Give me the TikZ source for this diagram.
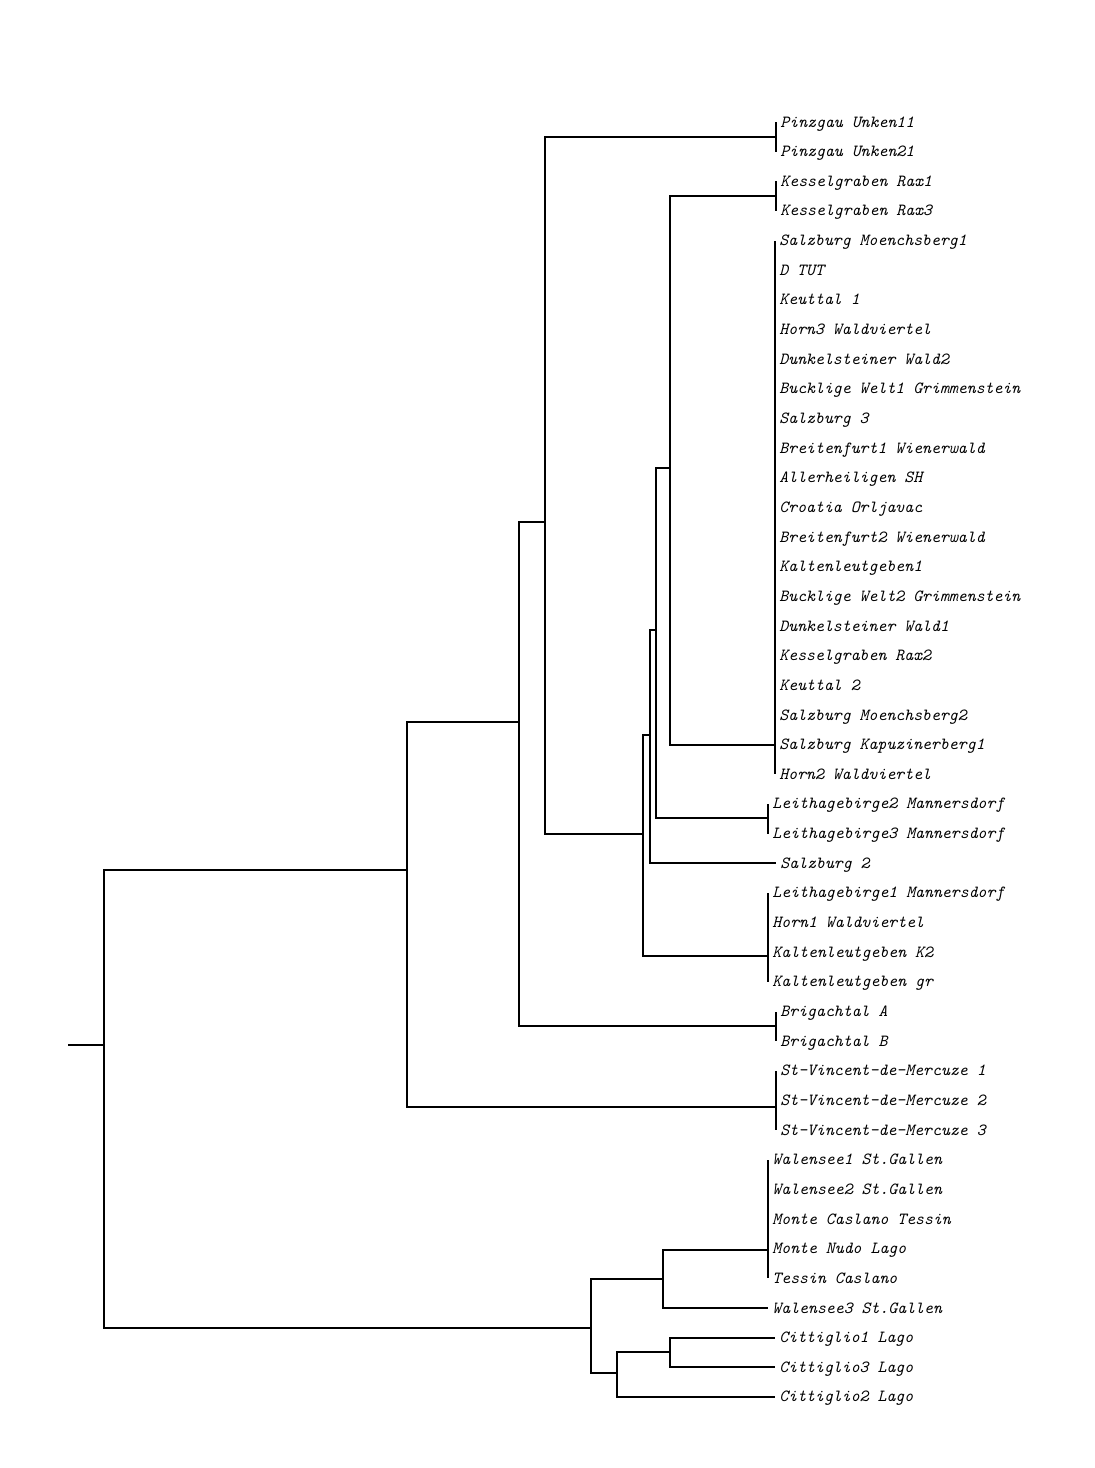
\documentclass[tikz,border=0pt]{standalone}
\usepackage{fontspec}
\usetikzlibrary{calc}
\tikzset{
    branch/.style={
        line width=1pt,
        black
    },
    leaf/.style={
        anchor=west,
        inner xsep=2pt,
        inner ysep=0pt,
        text height=5pt,
        text depth=0pt,
        font=\ttfamily\itshape\fontsize{8.5}{10}\selectfont
    }
}

\begin{document}
\begin{tikzpicture}[x=0.5pt, y=-0.5pt]
                \useasboundingbox (0,0) rectangle (1094,1468);
                \foreach \name/\cx [count=\i] in {
                    Pinzgau Unken11/776, Pinzgau Unken21/776,
                    Kesselgraben Rax1/776, Kesselgraben Rax3/776,
                    Salzburg Moenchsberg1/775, D TUT/775, Keuttal 1/775,
                    Horn3 Waldviertel/775, Dunkelsteiner Wald2/775,
                    Bucklige Welt1 Grimmenstein/775, Salzburg 3/775,
                    Breitenfurt1 Wienerwald/775, Allerheiligen SH/775,
                    Croatia Orljavac/775, Breitenfurt2 Wienerwald/775,
                    Kaltenleutgeben1/775, Bucklige Welt2 Grimmenstein/775,
                    Dunkelsteiner Wald1/775, Kesselgraben Rax2/775,
                    Keuttal 2/775, Salzburg Moenchsberg2/775,
                    Salzburg Kapuzinerberg1/775, Horn2 Waldviertel/775,
                    Leithagebirge2 Mannersdorf/768, Leithagebirge3 Mannersdorf/768,
                    Salzburg 2/776,
                    Leithagebirge1 Mannersdorf/768, Horn1 Waldviertel/768,
                    Kaltenleutgeben K2/768, Kaltenleutgeben gr/768,
                    Brigachtal A/776, Brigachtal B/776,
                    St-Vincent-de-Mercuze 1/776, St-Vincent-de-Mercuze 2/776,
                    St-Vincent-de-Mercuze 3/776,
                    Walensee1 St.Gallen/768, Walensee2 St.Gallen/768,
                    Monte Caslano Tessin/768, Monte Nudo Lago/768,
                    Tessin Caslano/768, Walensee3 St.Gallen/768,
                    Cittiglio1 Lago/775, Cittiglio3 Lago/775, Cittiglio2 Lago/775}
                    \node [leaf] (L\i) at (\cx, {122+(\i-1)*29.65}) {\name};
                \coordinate (root) at (68,1045);
                \coordinate (n0) at (104,1045);
                \coordinate (nA) at (407,870);
                \coordinate (nB) at (519,722);
                \coordinate (nC) at (545,522);
                \coordinate (nD) at (643,834);
                \coordinate (nE) at (650,735);
                \coordinate (nF) at (656,630);
                \coordinate (nG) at (670,468);
                \coordinate (nH) at (591,1328);
                \coordinate (nI) at (663,1279);
                \coordinate (nJ) at (617,1373);
                \coordinate (nK) at (670,1352);
                \coordinate (cPinzgau) at (776,137);
                \coordinate (cKessel) at (776,196);
                \coordinate (cMain) at (775,745);
                \coordinate (cLeithaA) at (768,818);
                \coordinate (cLeithaB) at (768,956);
                \coordinate (cBrig) at (776,1026);
                \coordinate (cVincent) at (776,1107);
                \coordinate (cWalen) at (768,1250);
                \draw [branch] (root) -- (n0);
                \draw [branch] (n0) |- (nA);
                \draw [branch] (n0) |- (nH);
                \draw [branch] (nA) |- (nB);
                \draw [branch] (nA) |- (cVincent);
                \draw [branch] (nB) |- (nC);
                \draw [branch] (nB) |- (cBrig);
                \draw [branch] (nC) |- (cPinzgau);
                \draw [branch] (nC) |- (nD);
                \draw [branch] (nD) |- (nE);
                \draw [branch] (nD) |- (cLeithaB);
                \draw [branch] (nE) |- (nF);
                \draw [branch] (nE) |- (L26.west);
                \draw [branch] (nF) |- (nG);
                \draw [branch] (nF) |- (cLeithaA);
                \draw [branch] (nG) |- (cKessel);
                \draw [branch] (nG) |- (cMain);
                \draw [branch] (nH) |- (nI);
                \draw [branch] (nH) |- (nJ);
                \draw [branch] (nI) |- (cWalen);
                \draw [branch] (nI) |- (L41.west);
                \draw [branch] (nJ) |- (nK);
                \draw [branch] (nJ) |- (L44.west);
                \draw [branch] (nK) |- (L42.west);
                \draw [branch] (nK) |- (L43.west);
                \foreach \i in {1,2} \draw [branch] (cPinzgau) |- (L\i.west);
                \foreach \i in {3,4} \draw [branch] (cKessel) |- (L\i.west);
                \foreach \i in {5,...,23} \draw [branch] (cMain) |- (L\i.west);
                \foreach \i in {24,25} \draw [branch] (cLeithaA) |- (L\i.west);
                \foreach \i in {27,...,30} \draw [branch] (cLeithaB) |- (L\i.west);
                \foreach \i in {31,32} \draw [branch] (cBrig) |- (L\i.west);
                \foreach \i in {33,34,35} \draw [branch] (cVincent) |- (L\i.west);
                \foreach \i in {36,...,40} \draw [branch] (cWalen) |- (L\i.west);
            \end{tikzpicture}
\end{document}
